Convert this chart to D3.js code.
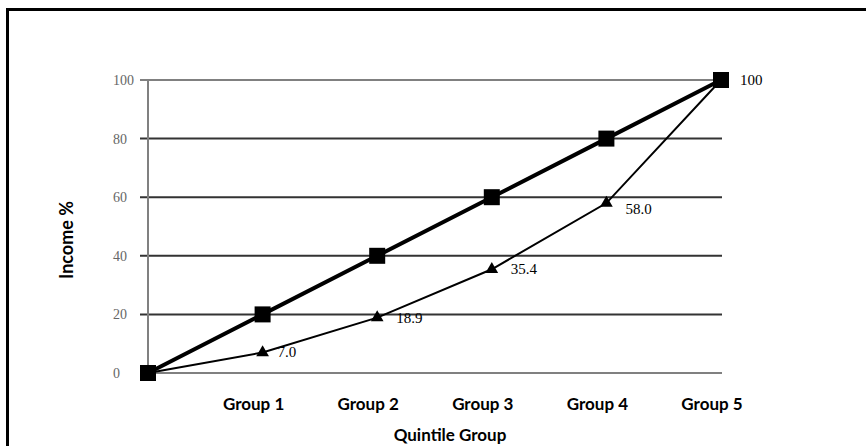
<!DOCTYPE html>
<html>
<head>
<meta charset="utf-8">
<script src="https://cdn.jsdelivr.net/npm/d3@7"></script>
<style>
  body { margin: 0; background: #fff; }
  svg { display: block; }
</style>
</head>
<body>
<div id="chart"></div>
<script>
// Chart data
const categories = ['Origin', 'Group 1', 'Group 2', 'Group 3', 'Group 4', 'Group 5'];
const equalityLine = [0, 20, 40, 60, 80, 100];
const incomeShare = [0, 7.0, 18.9, 35.4, 58.0, 100];
const pointLabels = ['', '7.0', '18.9', '35.4', '58.0', '100'];
const yTicks = [0, 20, 40, 60, 80, 100];

function drawChart() {
  const width = 866, height = 446;

  const svg = d3.select('#chart')
    .append('svg')
    .attr('width', width)
    .attr('height', height);

  // outer frame (runs off the right and bottom edges)
  svg.append('rect')
    .attr('x', 7.5).attr('y', 9.5)
    .attr('width', 900).attr('height', 500)
    .attr('fill', 'none')
    .attr('stroke', '#000')
    .attr('stroke-width', 3);

  const x = d3.scalePoint()
    .domain(categories)
    .range([148, 721]);

  const y = d3.scaleLinear()
    .domain([0, 100])
    .range([373, 80]);

  // gridlines with small tick stubs on the left
  svg.append('g')
    .selectAll('line')
    .data(yTicks)
    .enter()
    .append('line')
    .attr('x1', 140)
    .attr('x2', 722)
    .attr('y1', d => y(d))
    .attr('y2', d => y(d))
    .attr('stroke', d => (d === 0 || d === 100) ? '#808080' : '#333')
    .attr('stroke-width', 2);

  // y axis line
  svg.append('line')
    .attr('x1', x('Origin')).attr('x2', x('Origin'))
    .attr('y1', y(100)).attr('y2', y(0))
    .attr('stroke', '#808080')
    .attr('stroke-width', 2);

  // y tick labels
  svg.append('g')
    .selectAll('text')
    .data(yTicks)
    .enter()
    .append('text')
    .attr('x', 113)
    .attr('y', d => y(d) + 5)
    .attr('font-family', 'Liberation Serif, serif')
    .attr('font-size', 14)
    .attr('fill', '#666')
    .text(d => d);

  // category labels
  svg.append('g')
    .selectAll('text')
    .data(categories.slice(1))
    .enter()
    .append('text')
    .attr('x', d => x(d) - 9)
    .attr('y', 410)
    .attr('text-anchor', 'middle')
    .attr('font-family', 'Lato, sans-serif')
    .attr('font-weight', 'bold')
    .attr('font-size', 17)
    .attr('fill', '#000')
    .text(d => d);

  // axis titles
  svg.append('text')
    .attr('x', 450)
    .attr('y', 441)
    .attr('text-anchor', 'middle')
    .attr('font-family', 'Lato, sans-serif')
    .attr('font-weight', 'bold')
    .attr('font-size', 17)
    .text('Quintile Group');

  svg.append('text')
    .attr('transform', 'translate(73,240) rotate(-90)')
    .attr('text-anchor', 'middle')
    .attr('font-family', 'Lato, sans-serif')
    .attr('font-weight', 'bold')
    .attr('font-size', 18)
    .text('Income %');

  const line = d3.line()
    .x((d, i) => x(categories[i]))
    .y(d => y(d));

  // actual income share (triangles)
  svg.append('path')
    .datum(incomeShare)
    .attr('d', line)
    .attr('fill', 'none')
    .attr('stroke', '#000')
    .attr('stroke-width', 2);

  svg.append('g')
    .selectAll('path')
    .data(incomeShare)
    .enter()
    .append('path')
    .attr('transform', (d, i) => `translate(${x(categories[i])},${y(d)})`)
    .attr('d', d3.symbol().type(d3.symbolTriangle).size(70))
    .attr('fill', '#000');

  // line of equality (squares)
  svg.append('path')
    .datum(equalityLine)
    .attr('d', line)
    .attr('fill', 'none')
    .attr('stroke', '#000')
    .attr('stroke-width', 4);

  svg.append('g')
    .selectAll('rect')
    .data(equalityLine)
    .enter()
    .append('rect')
    .attr('x', (d, i) => x(categories[i]) - 8)
    .attr('y', d => y(d) - 8)
    .attr('width', 16)
    .attr('height', 16)
    .attr('fill', '#000');

  // value labels
  svg.append('g')
    .selectAll('text')
    .data(incomeShare)
    .enter()
    .append('text')
    .attr('x', (d, i) => x(categories[i]) + (i === 1 ? 15 : 19))
    .attr('y', (d, i) => y(d) + (i === 4 ? 11 : 5))
    .attr('font-family', 'Liberation Serif, serif')
    .attr('font-size', 15)
    .attr('fill', '#000')
    .text((d, i) => pointLabels[i]);
}

document.addEventListener('DOMContentLoaded', drawChart);
</script>
</body>
</html>
